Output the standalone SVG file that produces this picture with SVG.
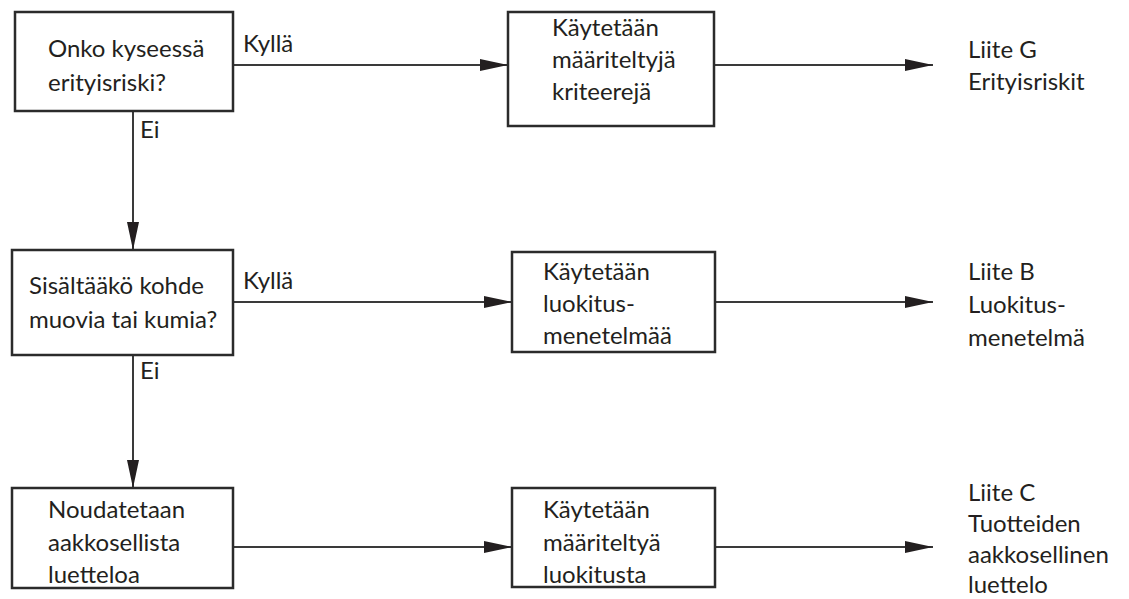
<svg xmlns="http://www.w3.org/2000/svg" width="1129" height="599" viewBox="0 0 1129 599">
<style>
.box{fill:#fff;stroke:#2b2b2b;stroke-width:2.5}
.t{font-family:Lato,"Liberation Sans",sans-serif;font-size:24px;fill:#231f20}
.c{stroke:#3a3a3a;stroke-width:2;fill:none}
</style>
<defs>
<marker id="ah" markerUnits="userSpaceOnUse" viewBox="0 0 28 12" refX="28" refY="6" markerWidth="28" markerHeight="12" orient="auto">
<path d="M0,0 L28,6 L0,12 z" fill="#231f20"/>
</marker>
</defs>
<rect width="1129" height="599" fill="#fff"/>
<g id="connectors">
<line class="c" x1="233" y1="65" x2="508" y2="65" marker-end="url(#ah)"/>
<line class="c" x1="714" y1="65" x2="933" y2="65" marker-end="url(#ah)"/>
<line class="c" x1="133" y1="111" x2="133" y2="250" marker-end="url(#ah)"/>
<line class="c" x1="233" y1="302" x2="512" y2="302" marker-end="url(#ah)"/>
<line class="c" x1="715" y1="302" x2="933" y2="302" marker-end="url(#ah)"/>
<line class="c" x1="133" y1="355" x2="133" y2="488" marker-end="url(#ah)"/>
<line class="c" x1="233" y1="547" x2="512" y2="547" marker-end="url(#ah)"/>
<line class="c" x1="715" y1="547" x2="933" y2="547" marker-end="url(#ah)"/>
<text class="t" x="243" y="52">Kyllä</text>
<text class="t" x="140" y="138">Ei</text>
<text class="t" x="243" y="289">Kyllä</text>
<text class="t" x="140" y="379">Ei</text>
</g>
<g id="q1">
<rect class="box" x="15" y="12" width="218" height="99"/>
<text class="t" x="48" y="57">Onko kyseessä</text>
<text class="t" x="48" y="91">erityisriski?</text>
</g>
<g id="a1">
<rect class="box" x="508" y="12" width="206" height="114"/>
<text class="t" x="552" y="36">Käytetään</text>
<text class="t" x="552" y="68">määriteltyjä</text>
<text class="t" x="552" y="100">kriteerejä</text>
</g>
<g id="r1">
<text class="t" x="968" y="58">Liite G</text>
<text class="t" x="968" y="90">Erityisriskit</text>
</g>
<g id="q2">
<rect class="box" x="12" y="250" width="221" height="105"/>
<text class="t" x="29" y="294">Sisältääkö kohde</text>
<text class="t" x="29" y="328">muovia tai kumia?</text>
</g>
<g id="a2">
<rect class="box" x="512" y="252" width="203" height="100"/>
<text class="t" x="543" y="280">Käytetään</text>
<text class="t" x="543" y="312">luokitus-</text>
<text class="t" x="543" y="344">menetelmää</text>
</g>
<g id="r2">
<text class="t" x="968" y="280">Liite B</text>
<text class="t" x="968" y="313">Luokitus-</text>
<text class="t" x="968" y="346">menetelmä</text>
</g>
<g id="q3">
<rect class="box" x="12" y="488" width="221" height="100"/>
<text class="t" x="48" y="518">Noudatetaan</text>
<text class="t" x="48" y="551">aakkosellista</text>
<text class="t" x="48" y="583">luetteloa</text>
</g>
<g id="a3">
<rect class="box" x="512" y="488" width="203" height="99"/>
<text class="t" x="543" y="518">Käytetään</text>
<text class="t" x="543" y="551">määriteltyä</text>
<text class="t" x="543" y="583">luokitusta</text>
</g>
<g id="r3">
<text class="t" x="968" y="501">Liite C</text>
<text class="t" x="968" y="532">Tuotteiden</text>
<text class="t" x="968" y="563">aakkosellinen</text>
<text class="t" x="968" y="593">luettelo</text>
</g>
</svg>
